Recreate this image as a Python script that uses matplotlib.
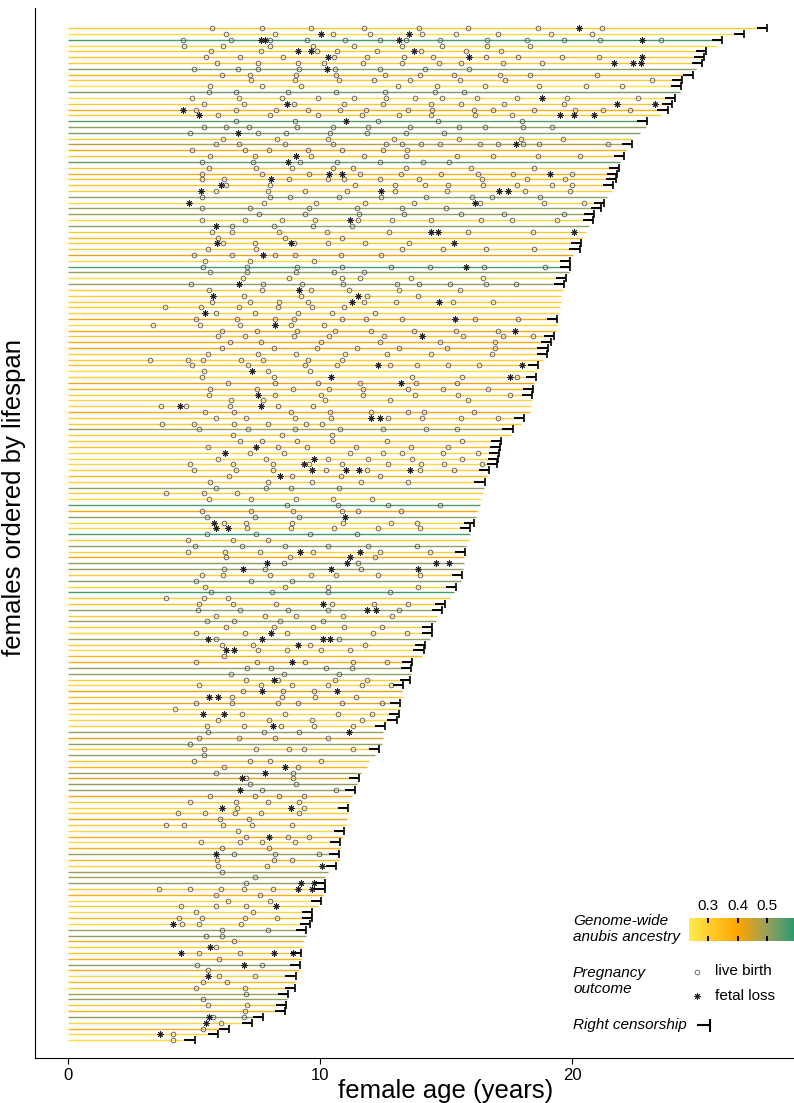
import matplotlib
matplotlib.use("Agg")
import matplotlib.pyplot as plt
import numpy as np
from matplotlib.colors import LinearSegmentedColormap, Normalize

plt.rcParams['font.family'] = ['Liberation Sans', 'DejaVu Sans']

# one entry per female, ordered from longest to shortest lifespan (top to bottom)
lifespan = [27.75, 26.82, 25.95, 25.76, 25.33, 25.24, 25.15, 24.91, 24.81, 24.37,
            24.33, 24.30, 24.09, 23.96, 23.79, 23.53, 22.99, 22.95, 22.68, 22.40,
            22.38, 22.14, 22.08, 21.90, 21.88, 21.80, 21.75, 21.62, 21.58, 21.40,
            21.28, 21.15, 20.87, 20.82, 20.69, 20.56, 20.41, 20.37, 20.30, 20.04,
            19.94, 19.93, 19.90, 19.78, 19.67, 19.63, 19.58, 19.57, 19.53, 19.48,
            19.42, 19.39, 19.38, 19.28, 19.16, 19.03, 19.02, 18.83, 18.66, 18.60,
            18.57, 18.51, 18.46, 18.42, 18.40, 18.38, 18.35, 18.10, 17.96, 17.64,
            17.56, 17.20, 17.16, 17.10, 17.05, 17.04, 16.71, 16.62, 16.53, 16.50,
            16.47, 16.38, 16.34, 16.23, 16.19, 16.12, 15.97, 15.95, 15.91, 15.80,
            15.74, 15.72, 15.70, 15.68, 15.63, 15.60, 15.39, 15.30, 15.15, 14.96,
            14.83, 14.65, 14.61, 14.44, 14.43, 14.37, 14.18, 14.11, 14.03, 13.64,
            13.62, 13.60, 13.59, 13.31, 13.25, 13.24, 13.18, 13.16, 13.14, 13.07,
            12.58, 12.51, 12.50, 12.47, 12.36, 12.19, 11.93, 11.88, 11.62, 11.56,
            11.45, 11.38, 11.25, 11.15, 11.13, 11.10, 11.06, 11.05, 10.97, 10.86,
            10.80, 10.78, 10.76, 10.74, 10.65, 10.33, 10.20, 10.19, 10.18, 10.13,
            10.04, 9.94, 9.70, 9.67, 9.59, 9.46, 9.44, 9.31, 9.28, 9.26,
            9.24, 9.22, 9.16, 9.03, 9.01, 9.00, 8.72, 8.68, 8.66, 8.61,
            7.75, 7.31, 6.38, 5.97, 5.02]

censored = [1, 1, 1, 0, 1, 1, 1, 0, 1, 1, 1, 0, 1, 1, 1, 0, 1, 0, 0, 0,
            1, 0, 1, 0, 1, 1, 1, 1, 0, 0, 1, 1, 1, 1, 0, 0, 0, 1, 1, 0,
            1, 1, 0, 1, 1, 0, 0, 0, 0, 0, 1, 0, 0, 1, 1, 1, 1, 0, 1, 0,
            1, 0, 1, 1, 0, 0, 0, 1, 0, 1, 0, 1, 1, 1, 1, 1, 1, 0, 1, 0,
            0, 0, 0, 0, 0, 1, 1, 0, 0, 0, 1, 0, 0, 0, 1, 0, 1, 0, 0, 1,
            1, 0, 0, 1, 1, 0, 1, 1, 0, 1, 1, 0, 1, 1, 0, 0, 1, 0, 1, 1,
            1, 0, 0, 0, 1, 0, 0, 0, 0, 1, 0, 1, 0, 0, 1, 0, 0, 0, 1, 0,
            1, 0, 1, 0, 1, 0, 0, 1, 1, 0, 1, 0, 1, 1, 1, 1, 0, 0, 0, 1,
            0, 1, 0, 1, 0, 1, 1, 0, 1, 1, 1, 1, 1, 1, 1]

ancestry = [.31, .27, .57, .27, .31, .33, .31, .51, .36, .31,
            .26, .53, .27, .31, .38, .31, .55, .51, .52, .31,
            .47, .39, .33, .54, .31, .37, .33, .32, .30, .50,
            .28, .50, .50, .28, .50, .31, .35, .31, .31, .42,
            .28, .56, .50, .27, .50, .31, .30, .31, .31, .29,
            .40, .29, .38, .32, .38, .38, .31, .31, .33, .27,
            .30, .41, .36, .31, .28, .29, .38, .31, .31, .49,
            .31, .31, .33, .28, .28, .27, .30, .35, .29, .50,
            .31, .28, .56, .39, .50, .28, .28, .57, .31, .50,
            .29, .39, .51, .50, .30, .51, .29, .57, .31, .33,
            .50, .30, .50, .31, .29, .50, .31, .28, .36, .38,
            .50, .50, .31, .29, .42, .33, .42, .29, .28, .28,
            .29, .50, .42, .50, .31, .50, .33, .36, .50, .42,
            .51, .50, .38, .31, .29, .31, .42, .31, .27, .38,
            .28, .38, .50, .35, .29, .50, .49, .50, .31, .38,
            .28, .31, .28, .35, .28, .50, .51, .38, .31, .33,
            .38, .51, .38, .28, .35, .33, .49, .50, .33, .37,
            .51, .28, .38, .28, .27]

births = [
    [5.72, 7.70, 9.63, 11.73, 13.92, 15.86, 18.64, 21.19],
    [6.25, 8.23, 10.50, 11.99, 14.03, 15.41, 17.08, 19.16, 20.78],
    [4.57, 6.45, 8.0, 9.48, 10.99, 12.38, 13.40, 14.78, 16.62, 18.20, 19.70, 21.12, 23.53],
    [4.61, 6.15, 8.03, 9.72, 11.36, 13.27, 14.85, 16.64, 18.35],
    [5.69, 7.64, 9.87, 10.67, 12.25, 14.01, 15.78, 17.17],
    [5.48, 6.82, 8.53, 10.54, 11.86, 13.33, 14.50, 16.58, 17.86, 19.59, 21.06],
    [5.93, 7.53, 9.13, 10.15, 11.69, 13.25, 14.74, 15.58, 17.27, 18.81],
    [4.98, 6.73, 7.53, 9.16, 10.59, 12.38, 14.16, 15.93],
    [6.10, 7.23, 9.03, 10.65, 12.57, 13.96, 15.33, 17.16, 18.35, 20.99],
    [7.27, 9.01, 10.74, 12.14, 13.59, 15.56, 17.36, 23.18],
    [5.63, 7.71, 9.26, 13.10, 14.65, 16.56, 18.70, 20.54, 21.99],
    [5.59, 6.67, 8.74, 10.65, 12.57, 14.57, 15.71],
    [4.94, 6.80, 8.49, 9.93, 11.34, 12.62, 13.75, 14.85, 16.25, 17.81, 19.81, 22.62],
    [5.39, 6.97, 8.96, 10.97, 12.51, 14.41, 15.61, 17.32, 19.67],
    [5.06, 6.67, 8.27, 9.52, 10.80, 11.84, 13.48, 14.46, 16.10, 16.88, 18.51, 20.13, 21.23, 22.32],
    [5.97, 8.03, 9.91, 11.67, 13.12, 14.42, 16.15, 17.62],
    [6.65, 9.00, 12.29, 14.67, 18.01],
    [5.41, 6.28, 7.19, 9.07, 10.50, 11.90, 13.59, 15.50, 16.54, 18.05, 19.22],
    [4.85, 7.55, 8.64, 10.39, 11.88, 13.40, 14.93],
    [6.17, 8.31, 10.32, 12.94, 15.50, 17.96, 19.63],
    [5.89, 6.78, 8.61, 10.52, 12.60, 13.25, 14.01, 14.78, 16.34, 17.08, 18.05, 18.70, 21.41],
    [4.94, 7.04, 7.97, 9.52, 10.89, 12.51, 13.46],
    [5.65, 7.42, 9.63, 11.73, 13.42, 15.43, 16.88, 18.66, 20.32],
    [5.30, 7.36, 9.22, 10.67, 12.38, 14.07, 15.13],
    [5.61, 7.45, 8.88, 10.52, 11.32, 13.40, 16.00, 18.48],
    [5.32, 7.71, 9.55, 11.60, 13.23, 14.81, 16.28, 17.64, 20.02],
    [5.32, 6.19, 8.77, 10.33, 10.95, 12.38, 13.94, 16.41, 18.23, 19.72],
    [6.28, 8.03, 11.38, 12.99, 14.18, 15.06, 16.45, 17.81, 19.20, 20.00],
    [5.86, 7.92, 9.42, 11.08, 12.99, 15.02, 18.14, 19.93],
    [5.30, 8.01, 8.79, 10.74, 12.44, 14.20, 16.04, 16.84, 18.74],
    [7.79, 9.83, 11.78, 13.74, 16.36, 18.87, 20.46],
    [5.33, 7.23, 9.55, 11.47, 13.27, 15.0],
    [7.58, 9.42, 11.54, 13.35, 15.59, 17.30, 19.67],
    [5.30, 7.01, 8.51, 9.81, 11.51, 12.84, 14.42, 16.38, 17.62, 19.39],
    [6.51, 8.16, 9.74, 11.27],
    [5.72, 6.49, 8.37, 10.28, 12.72, 15.86, 18.44],
    [5.97, 8.61, 10.86],
    [6.15, 7.42, 8.98, 10.33, 11.77, 13.55],
    [5.54, 7.47, 13.25, 14.89, 16.60, 18.48],
    [5.00, 6.49, 8.20, 9.0, 10.82, 12.44],
    [5.45, 7.21, 9.78],
    [5.37, 7.12, 9.07, 10.86, 12.83, 14.37, 16.51, 18.94],
    [5.63, 7.10, 9.03, 10.56, 11.73],
    [6.95, 8.75, 10.87, 11.60, 13.62, 16.45],
    [4.89, 7.75, 9.29, 10.93, 13.05, 13.92, 15.17, 16.58, 17.79],
    [5.59, 7.70, 9.63, 11.17, 13.12, 15.54],
    [6.97, 9.26, 11.88, 13.89],
    [5.72, 7.21, 8.36, 9.52, 11.73, 13.03, 15.28, 16.86],
    [3.85, 5.26, 6.77, 8.33, 9.67, 10.97],
    [5.86, 7.42, 9.11, 10.46, 12.19],
    [5.07, 6.69, 8.20, 8.96, 10.86, 11.84, 13.25, 16.14, 17.85],
    [3.38, 5.22, 6.84, 8.83, 10.15],
    [6.10, 7.49, 9.09, 10.59, 12.04, 13.72, 15.41, 17.08],
    [5.97, 7.03, 8.98, 10.37, 12.53, 15.69, 17.25, 18.44],
    [6.43, 7.66, 10.04, 12.38, 14.76, 16.93],
    [6.12, 8.16, 9.89, 11.45, 13.12, 15.02, 16.95],
    [5.56, 7.53, 9.03, 11.0, 12.66, 14.42, 16.82],
    [3.27, 4.76, 5.37, 6.88, 7.75, 9.52, 10.87],
    [4.94, 7.14, 9.41, 10.69, 12.77, 13.85, 15.09, 16.30],
    [5.39, 7.94, 9.59],
    [5.30, 8.16, 13.64, 15.65, 17.81],
    [6.34, 8.20, 9.91, 11.58, 13.81, 15.43],
    [5.63, 7.49, 8.92, 10.37, 11.69, 13.48, 14.87, 16.65],
    [5.59, 8.22, 10.04, 11.69, 13.75, 15.48, 17.55],
    [6.47, 7.75, 10.20, 12.79, 15.86],
    [3.68, 4.70, 6.41, 8.33, 9.74],
    [5.45, 6.60, 8.83, 10.39, 12.01, 13.51, 14.13, 16.12],
    [5.88, 7.05, 9.0, 10.45, 12.70, 14.05, 15.58, 17.06],
    [3.74, 5.0, 6.60, 7.92, 9.46, 10.09],
    [5.20, 7.16, 9.0, 10.78, 12.49, 14.22, 15.45],
    [6.56, 8.51, 10.46],
    [6.82, 7.71, 9.09, 10.49, 12.64, 15.62],
    [5.54, 8.35, 9.50, 11.41, 13.62, 15.09],
    [7.23, 8.57, 11.21, 12.51, 13.25, 14.87, 16.28],
    [5.97, 7.86, 10.33, 11.91, 13.66, 15.65],
    [4.85, 6.56, 8.14, 9.55, 10.89, 12.68, 14.0, 14.93, 16.41],
    [4.98, 6.65, 8.14, 10.24, 11.86, 13.96, 15.30],
    [6.39, 8.87, 10.84, 12.40],
    [5.63, 7.92, 9.70, 11.64, 13.51],
    [5.87, 7.84, 8.83, 10.74],
    [3.87, 5.39, 6.71],
    [5.61, 7.27, 9.03, 10.50, 12.08],
    [8.68, 10.72, 12.68, 14.78],
    [5.30, 7.25, 8.92, 10.86, 11.51, 13.20],
    [5.50, 7.44, 9.16],
    [6.19, 7.05, 8.90, 10.91, 12.81, 13.85],
    [7.12, 8.85, 10.56, 12.29, 13.98],
    [5.50, 7.47, 9.61, 11.45],
    [4.78, 6.56, 7.94],
    [5.02, 6.91, 8.62, 10.30, 11.91, 13.83],
    [4.76, 6.23, 7.62, 9.74, 12.40, 14.35],
    [6.25, 8.79, 12.17],
    [8.57, 11.52],
    [6.19, 7.83, 11.62],
    [5.30, 6.17, 8.03, 9.63, 10.65, 12.29, 13.98],
    [5.07, 7.25, 8.87],
    [5.45, 8.61, 10.33, 13.87],
    [5.69, 8.09, 10.33, 12.77],
    [3.88, 5.41, 6.34],
    [5.19, 6.56, 8.25, 10.48, 12.16, 13.51],
    [5.15, 6.82, 8.74, 10.33, 13.12],
    [5.89, 7.83, 9.03, 10.93, 12.86],
    [5.50, 6.58, 8.42, 10.13],
    [6.25, 8.16, 9.72, 10.95, 12.47],
    [5.09, 7.04, 8.70, 12.12, 13.46],
    [5.89, 10.74],
    [6.13, 7.34, 9.59, 11.80],
    [7.55, 8.68, 10.04, 11.19],
    [6.21],
    [5.06, 7.51, 9.41, 11.32, 12.66],
    [7.12, 8.07, 10.22, 11.26],
    [6.47, 8.57, 10.74],
    [7.08, 8.35, 10.58, 11.88],
    [5.20, 7.66, 8.90, 10.33, 11.65, 12.81],
    [6.95, 8.55, 9.76],
    [6.51, 8.49, 9.81, 11.41],
    [5.09, 6.52, 8.35, 9.13, 10.87, 12.45],
    [4.26],
    [6.90, 8.61, 10.71, 12.08],
    [5.97, 7.96, 9.70, 11.65],
    [5.50, 6.99, 8.44, 9.78, 11.32],
    [5.56, 7.79, 9.18],
    [5.19, 6.77, 8.20, 10.32],
    [4.85],
    [5.41, 7.45, 8.77, 9.37, 11.32],
    [5.41],
    [4.98, 7.23, 8.03, 10.02],
    [6.21, 9.13],
    [5.86, 8.94],
    [7.06, 8.94],
    [7.21, 9.05],
    [7.68, 10.65],
    [5.65, 7.44, 8.38, 9.37],
    [4.83, 6.65, 7.92, 9.16],
    [6.71, 9.35],
    [4.37, 5.43, 6.62, 7.66, 9.18],
    [6.02, 7.19],
    [3.88, 4.61, 6.15, 7.32, 8.90],
    [6.75],
    [7.05, 8.72, 9.55],
    [5.28, 6.82, 7.68, 9.01],
    [6.10, 7.99],
    [6.58, 8.23, 9.96],
    [5.93, 8.16, 8.87],
    [5.97, 7.88],
    [6.10],
    [7.42],
    [7.08],
    [3.62, 4.83, 6.06, 6.99, 8.12],
    [5.89, 7.62],
    [6.34, 8.03],
    [4.50, 5.86, 7.08],
    [5.06, 7.34],
    [4.39, 5.32, 7.04, 8.31],
    [4.52, 5.20, 6.88],
    [6.10, 7.92],
    [5.48, 6.10],
    [6.60],
    [5.87],
    [5.19, 6.84],
    [5.99],
    [5.11, 7.70],
    [5.56],
    [5.99, 7.42],
    [5.37, 6.30],
    [5.07, 7.03],
    [7.06],
    [5.37],
    [5.54, 7.12],
    [7.01],
    [5.74, 6.99],
    [6.06],
    [5.37],
    [4.15],
    [4.15],
]

losses = [
    [20.26], [10.04, 13.53], [7.65, 7.8, 13.14, 22.77], [], [9.11, 9.63, 13.72],
    [10.32, 15.91, 22.79], [21.65, 22.44, 22.73], [10.28], [], [],
    [], [], [18.81], [8.70, 21.80, 23.29], [4.57],
    [5.20, 19.52, 20.07, 20.87], [11.02], [], [6.73], [],
    [17.79], [], [9.05], [8.74], [],
    [10.35, 10.89, 19.11], [8.07], [6.06], [5.26, 12.42, 17.12, 17.48], [],
    [4.81, 16.15], [], [], [11.21], [5.86],
    [14.39, 14.70, 20.06], [], [5.91, 8.83, 15.33], [], [7.75],
    [], [15.78], [], [], [6.77],
    [9.16], [5.74, 11.51], [11.28, 14.74], [], [5.45],
    [15.37], [8.22], [17.73], [14.05], [],
    [], [], [], [12.32, 18.01], [7.30],
    [10.45, 17.55], [13.23], [], [7.53], [],
    [4.44, 7.66], [], [12.04, 12.40], [], [],
    [], [], [7.45], [6.23], [9.76],
    [9.35], [9.70, 11.02, 11.54, 13.57], [8.40], [], [],
    [], [], [], [], [11.0],
    [5.80], [5.87, 6.36], [], [], [],
    [9.22, 11.60], [11.21], [7.88, 11.06, 14.61, 15.11], [6.95, 10.45, 13.88], [],
    [], [], [], [], [10.11],
    [11.88, 12.23], [], [], [], [8.07],
    [5.56, 7.68, 10.13, 10.39], [9.11], [6.28, 6.60], [], [8.90],
    [], [], [8.16], [], [7.71, 10.67],
    [5.59, 5.95], [], [], [5.37, 6.21], [],
    [8.12], [11.15], [], [], [],
    [], [], [8.61], [7.83], [6.90],
    [], [6.84], [], [], [6.10, 8.85],
    [], [], [], [], [7.99],
    [], [], [5.87], [], [10.06],
    [], [], [9.24, 9.76], [9.13, 9.67], [],
    [], [8.27], [], [], [4.16],
    [], [], [], [5.65], [4.48, 8.18, 8.92],
    [], [6.99], [], [5.54], [],
    [], [], [], [], [],
    [5.60], [5.47], [], [3.66], [],
]

cmap = LinearSegmentedColormap.from_list(
    'anubis', [(0.0, '#FFEA4F'), (0.465, '#FFA500'), (0.74, '#99A05C'), (1.0, '#2E9C70')])
norm = Normalize(vmin=0.235, vmax=0.59)

fig = plt.figure(figsize=(7.94, 11.03), dpi=100)
ax = fig.add_axes([35 / 794, 45 / 1103, 759 / 794, 1050 / 1103])

n = len(lifespan)
ypos = np.arange(n, 0, -1)

bx, by, lx, ly = [], [], [], []
for y, L, c, a, b, l in zip(ypos, lifespan, censored, ancestry, births, losses):
    ax.plot([0, L], [y, y], color=cmap(norm(a)), lw=1.0, solid_capstyle='butt', zorder=1)
    if c:
        ax.plot([L - 0.4, L], [y, y], color='black', lw=1.4, solid_capstyle='butt', zorder=3)
        ax.plot([L], [y], marker='|', ms=5.2, mew=1.2, color='black', zorder=3)
    bx += b
    by += [y] * len(b)
    lx += l
    ly += [y] * len(l)

ax.plot(bx, by, ls='none', marker='o', ms=3.4, mfc='none', mec='#4a4a4a', mew=0.55, zorder=2)
ax.plot(lx, ly, ls='none', marker=(8, 2, 0), ms=4.4, mew=0.7, color='#222222', zorder=2)

ax.set_xlim(-1.31, 28.81)
ax.set_ylim(-2.06, n + 3.46)
ax.spines['top'].set_visible(False)
ax.spines['right'].set_visible(False)
ax.spines['left'].set_linewidth(0.8)
ax.spines['bottom'].set_linewidth(0.8)
ax.set_yticks([])
ax.set_xticks([0, 10, 20])
ax.tick_params(axis='x', labelsize=12, length=4, width=0.8, pad=3)
ax.set_xlabel('female age (years)', fontsize=18.5)
ax.xaxis.set_label_coords(0.541, -0.02)
ax.set_ylabel('females ordered by lifespan', fontsize=18.5)
ax.yaxis.set_label_coords(-0.012, 0.534)

# legend, drawn in pixel coordinates of the figure
lg = fig.add_axes([0, 0, 1, 1])
lg.set_xlim(0, 794)
lg.set_ylim(1103, 0)
lg.axis('off')
lg.patch.set_alpha(0)

lg.text(573, 929, 'Genome-wide\nanubis ancestry', style='italic', fontsize=11,
        va='center', ha='left', linespacing=1.15)
lg.text(573, 981, 'Pregnancy\noutcome', style='italic', fontsize=11,
        va='center', ha='left', linespacing=1.15)
lg.text(573, 1025, 'Right censorship', style='italic', fontsize=11, va='center', ha='left')

lg.plot([697], [972], marker='o', ms=3.4, mfc='none', mec='#4a4a4a', mew=0.55)
lg.text(715, 971, 'live birth', fontsize=11, va='center', ha='left')
lg.plot([697], [996], marker=(8, 2, 0), ms=4.4, mew=0.7, color='#222222')
lg.text(715, 996, 'fetal loss', fontsize=11, va='center', ha='left')
lg.plot([697, 710], [1025, 1025], color='black', lw=1.5, solid_capstyle='butt')
lg.plot([710, 710], [1019, 1032], color='black', lw=1.5, solid_capstyle='butt')

cb = fig.add_axes([689 / 794, 1 - 941 / 1103, 105 / 794, 23 / 1103])
grad = np.linspace(norm.vmin, norm.vmax, 300).reshape(1, -1)
cb.imshow(grad, cmap=cmap, norm=norm, aspect='auto',
          extent=[norm.vmin, norm.vmax, 0, 1], interpolation='bilinear')
cb.set_xlim(norm.vmin, norm.vmax)
cb.set_ylim(0, 1)
cb.axis('off')
for t in [0.3, 0.4, 0.5]:
    cb.plot([t, t], [0.82, 1.0], color='black', lw=1.4)
    cb.plot([t, t], [0.0, 0.18], color='black', lw=1.4)
    cb.text(t, 1.2, f'{t:.1f}', fontsize=11, ha='center', va='bottom',
            transform=cb.transData)

fig.savefig('out.png', dpi=100)
